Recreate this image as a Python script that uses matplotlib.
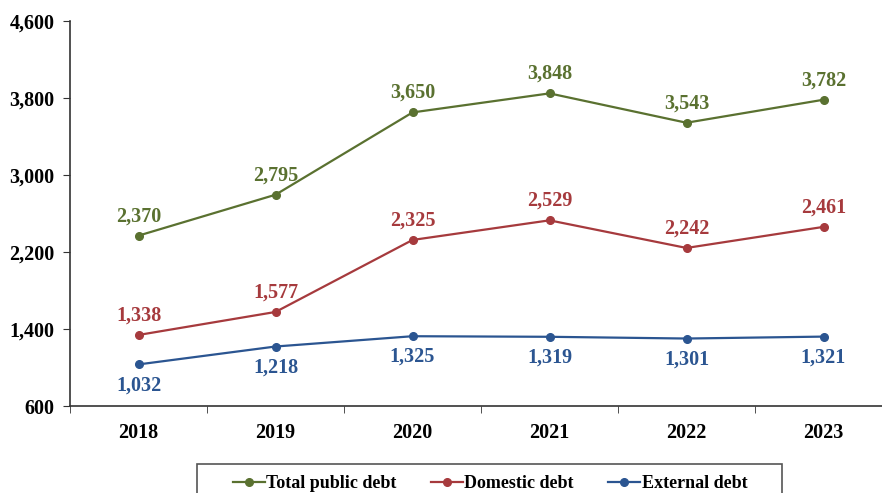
import matplotlib
matplotlib.use("Agg")
import matplotlib.pyplot as plt
from matplotlib.patches import Rectangle
from matplotlib.ticker import FuncFormatter, FixedLocator

years = ["2018", "2019", "2020", "2021", "2022", "2023"]
total_debt = [2370, 2795, 3650, 3848, 3543, 3782]
domestic_debt = [1338, 1577, 2325, 2529, 2242, 2461]
external_debt = [1032, 1218, 1325, 1319, 1301, 1321]
y_ticks = [600, 1400, 2200, 3000, 3800, 4600]

plt.rcParams["font.family"] = ["Liberation Serif", "DejaVu Serif"]
plt.rcParams["font.weight"] = "bold"

W, H = 882, 493
fig = plt.figure(figsize=(W / 100, H / 100), dpi=100)
ax = fig.add_axes([70 / W, 1 - 406 / H, 822 / W, 385 / H])

x = list(range(len(years)))
series = [
    ("Total public debt", total_debt, "#5a7130", 14),
    ("Domestic debt", domestic_debt, "#a63a3d", 14),
    ("External debt", external_debt, "#2b5591", -15),
]
for name, vals, color, off in series:
    ax.plot(x, vals, color=color, lw=1.6, marker="o", ms=5.5, label=name)
    for xi, v in zip(x, vals):
        ax.annotate(f"{v:,}", (xi, v), xytext=(0, off), textcoords="offset points",
                    ha="center", va="center",
                    color=color, fontsize=14.5, fontweight="bold")

ax.set_xlim(-0.5, 5.5)
ax.set_ylim(600, 4600)
ax.yaxis.set_major_locator(FixedLocator(y_ticks))
ax.yaxis.set_major_formatter(FuncFormatter(lambda v, p: f"{int(v):,}"))
ax.set_xticks(x)
ax.set_xticklabels(years)
ax.set_xticks([i + 0.5 for i in range(-1, 6)], minor=True)
ax.tick_params(axis="x", which="major", length=0, pad=12, labelsize=14.5)
ax.tick_params(axis="x", which="minor", length=5, direction="out", color="#333333")
ax.tick_params(axis="y", length=5, direction="out", pad=6, labelsize=14.5, color="#333333")
for lbl in ax.get_xticklabels() + ax.get_yticklabels():
    lbl.set_fontweight("bold")
ax.spines["top"].set_visible(False)
ax.spines["right"].set_visible(False)
for s in ("left", "bottom"):
    ax.spines[s].set_color("#333333")
    ax.spines[s].set_linewidth(1.2)

# legend box, open at the bottom edge of the figure
fig.patches.append(Rectangle((197 / W, -0.05), (782 - 197) / W, 0.05 + (H - 464) / H,
                             transform=fig.transFigure, fill=False,
                             edgecolor="#555555", lw=1.2))
fig.legend(loc="center left", bbox_to_anchor=(233 / W, 1 - 484 / H), ncol=3,
           frameon=False, prop={"weight": "bold", "size": 13}, handlelength=1.75,
           columnspacing=1.9, borderpad=0, borderaxespad=0, handletextpad=0.1)

fig.savefig("out.png", dpi=100)
